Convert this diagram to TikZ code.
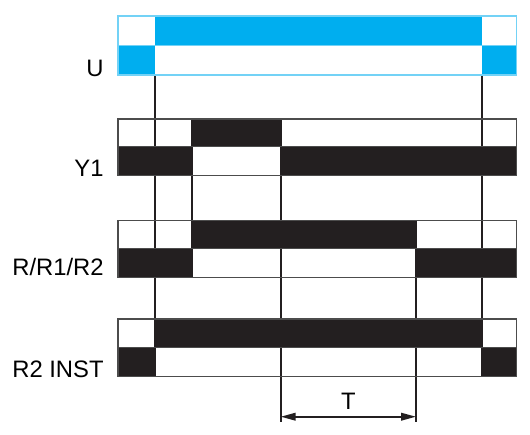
\documentclass[tikz,border=0pt]{standalone}
\usepackage{fontspec}
\setmainfont{Liberation Sans}
\usetikzlibrary{arrows.meta}
\definecolor{supply}{RGB}{0,174,239}
\definecolor{ink}{RGB}{35,31,32}
\tikzset{
  bar frame/.style={
    draw=black!70,
    line width=0.6pt,
  },
  supply frame/.style={
    draw=supply!55,
    line width=0.6pt,
  },
  time line/.style={
    draw=ink,
    line width=0.9pt,
  },
  row label/.style={
    anchor=base east,
    inner sep=0pt,
    font=\fontsize{11.9}{14}\selectfont,
  },
}

\begin{document}
\begin{tikzpicture}[x=0.5pt, y=-0.5pt]
      \useasboundingbox (0,0) rectangle (530,434);

      % time marks
      \coordinate (a1) at (155,75);   \coordinate (a2) at (155,377);
      \coordinate (b1) at (191.7,119); \coordinate (b2) at (191.7,278);
      \coordinate (c1) at (280.7,119); \coordinate (c2) at (280.7,422);
      \coordinate (d1) at (416,220);   \coordinate (d2) at (416,422);
      \coordinate (e1) at (482.3,75);  \coordinate (e2) at (482.3,377);

      \draw[time line] (a1) -- (a2);
      \draw[time line] (b1) -- (b2);
      \draw[time line] (c1) -- (c2);
      \draw[time line] (d1) -- (d2);
      \draw[time line] (e1) -- (e2);

      % U
      \fill[supply] (155,16) rectangle (482.3,45.7);
      \fill[supply] (118,45.7) rectangle (155,75);
      \fill[supply] (482.3,45.7) rectangle (516.7,75);
      \draw[supply frame] (118,16) rectangle (516.7,75);
      \draw[supply frame] (118,45.7) -- (516.7,45.7);
      \node[row label] (u) at (104,76) {U};

      % Y1
      \fill[ink] (191.7,119) rectangle (280.7,146.7);
      \fill[ink] (118,146.7) rectangle (191.7,175.7);
      \fill[ink] (280.7,146.7) rectangle (516.7,175.7);
      \draw[bar frame] (118,119) rectangle (516.7,175.7);
      \draw[bar frame] (118,146.7) -- (516.7,146.7);
      \node[row label] (y1) at (104,176) {Y1};

      % R/R1/R2
      \fill[ink] (191.7,220.7) rectangle (416,248.3);
      \fill[ink] (118,248.3) rectangle (191.7,277.7);
      \fill[ink] (416,248.3) rectangle (516.7,277.7);
      \draw[bar frame] (118,220.7) rectangle (516.7,277.7);
      \draw[bar frame] (118,248.3) -- (516.7,248.3);
      \node[row label] (r) at (104,275.5) {R/R1/R2};

      % R2 INST
      \fill[ink] (155,319) rectangle (482.3,347.3);
      \fill[ink] (118,347.3) rectangle (155,376.7);
      \fill[ink] (482.3,347.3) rectangle (516.7,376.7);
      \draw[bar frame] (118,319) rectangle (516.7,376.7);
      \draw[bar frame] (118,347.3) -- (516.7,347.3);
      \node[row label] (r2) at (104,377) {R2 INST};

      % T
      \coordinate (t1) at (280.7,416.7);
      \coordinate (t2) at (416,416.7);
      \draw[time line, {Triangle[length=7.5pt,width=3.8pt]}-{Triangle[length=7.5pt,width=3.8pt]}] (t1) -- (t2);
      \node[row label, anchor=base] (t) at (348.3,409) {T};
    \end{tikzpicture}
\end{document}
